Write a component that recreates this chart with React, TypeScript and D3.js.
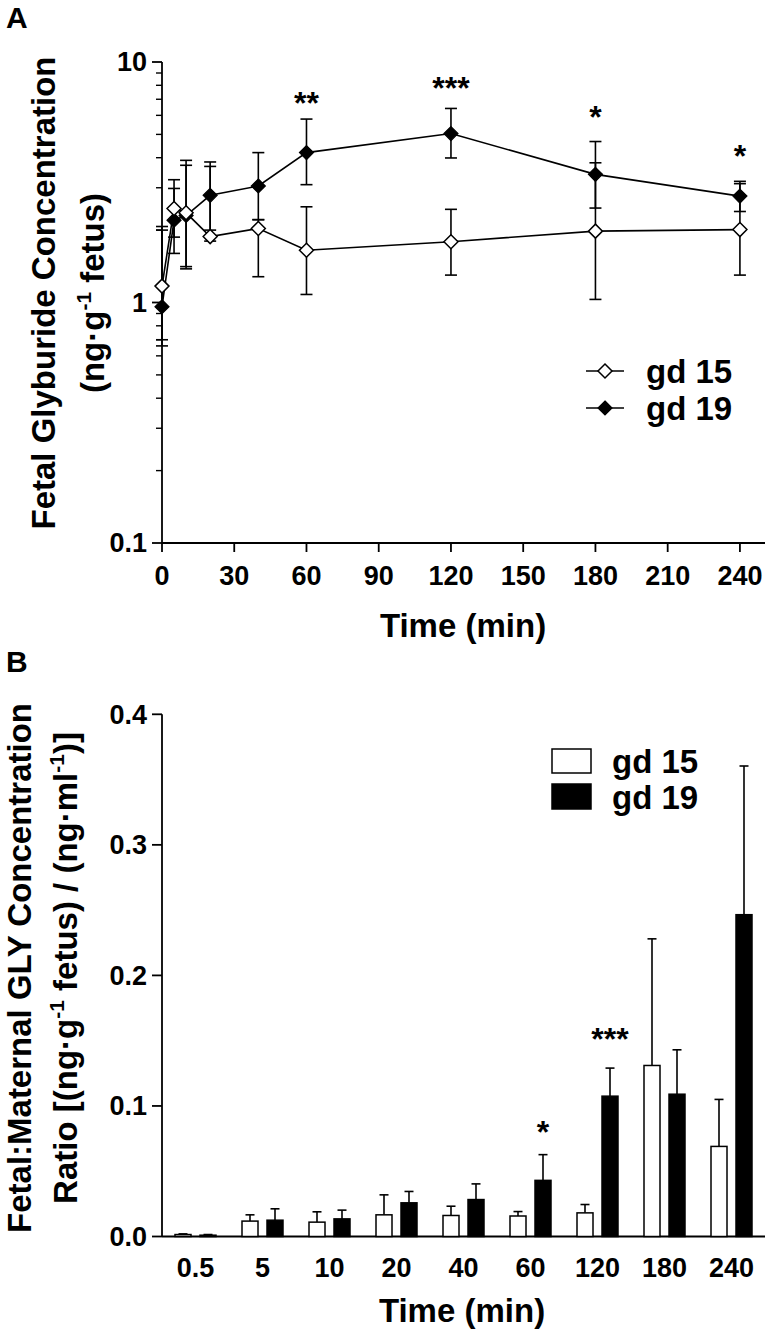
import React from "react";
import * as d3 from "d3";

// ---------- Panel A data (fetal glyburide concentration, ng/g fetus) ----------
const timesA = [0, 5, 10, 20, 40, 60, 120, 180, 240];
const gd15Mean = [1.17, 2.46, 2.36, 1.88, 2.03, 1.65, 1.79, 1.98, 2.01];
const gd15Upper = [2.07, 3.24, 3.9, 3.68, 2.21, 2.5, 2.44, 3.81, 3.12];
const gd15Lower = [0.7, 1.87, 1.41, 1.8, 1.28, 1.08, 1.3, 1.03, 1.3];
const gd19Mean = [0.96, 2.2, 2.3, 2.79, 3.05, 4.2, 5.04, 3.41, 2.77];
const gd19Upper = [2.0, 2.98, 3.72, 3.84, 4.2, 5.79, 6.41, 4.67, 3.19];
const gd19Lower = [0.66, 1.6, 1.38, 2.0, 2.21, 3.09, 3.99, 2.47, 2.39];
const xTicksA = [0, 30, 60, 90, 120, 150, 180, 210, 240];
const yTicksA = [0.1, 1, 10];
const yTickLabelsA = ["0.1", "1", "10"];
const sigTimesA = [60, 120, 180, 240];
const sigLabelsA = ["**", "***", "*", "*"];
const sigLevelsA = [7.17, 8.28, 6.27, 4.3];

// ---------- Panel B data (fetal:maternal ratio) ----------
const catsB = ["0.5", "5", "10", "20", "40", "60", "120", "180", "240"];
const ratio15 = [0.0015, 0.0118, 0.011, 0.0166, 0.0161, 0.0157, 0.0181, 0.131, 0.069];
const ratio15Top = [0.002, 0.0166, 0.0189, 0.0319, 0.0232, 0.0191, 0.0245, 0.228, 0.105];
const ratio19 = [0.001, 0.0125, 0.0135, 0.0258, 0.0283, 0.043, 0.1075, 0.109, 0.2465];
const ratio19Top = [0.0015, 0.0212, 0.0202, 0.0345, 0.0403, 0.0627, 0.129, 0.143, 0.3604];
const yTicksB = [0, 0.1, 0.2, 0.3, 0.4];
const sigCatsB = ["60", "120"];
const sigLabelsB = ["*", "***"];
const sigLevelsB = [0.0849, 0.1558];

const FONT = "'Liberation Sans', Arial, Helvetica, sans-serif";
const SW = 1.6;

function diamond(cx: number, cy: number, r: number) {
  return `M${cx},${cy - r}L${cx + r},${cy}L${cx},${cy + r}L${cx - r},${cy}Z`;
}

export default function App() {
  // ----- Panel A scales -----
  const xA = d3.scaleLinear().domain([0, 250]).range([162, 764]);
  const yA = d3.scaleLog().domain([0.1, 10]).range([543, 62]);
  const lineA = d3
    .line<number>()
    .x((_, i) => xA(timesA[i]))
    .y((d) => yA(d));

  const minorA: number[] = [];
  [0.1, 1].forEach((dec) => {
    for (let k = 2; k <= 9; k++) minorA.push(dec * k);
  });

  // ----- Panel B scales -----
  const xB = d3.scaleBand<string>().domain(catsB).range([162, 765]);
  const yB = d3.scaleLinear().domain([0, 0.4]).range([1236.5, 714.3]);
  const off = 12.5;
  const bw = 16;
  const cB = (c: string) => (xB(c) as number) + xB.bandwidth() / 2;

  const errA = (means: number[], ups: number[], lows: number[], key: string) =>
    means.map((m, i) => {
      const x = xA(timesA[i]);
      return (
        <g key={key + i} stroke="#000" strokeWidth={SW}>
          <line x1={x} x2={x} y1={yA(ups[i])} y2={yA(lows[i])} />
          <line x1={x - 6} x2={x + 6} y1={yA(ups[i])} y2={yA(ups[i])} />
          <line x1={x - 6} x2={x + 6} y1={yA(lows[i])} y2={yA(lows[i])} />
        </g>
      );
    });

  return (
    <svg
      width={767}
      height={1332}
      style={{ position: "absolute", left: 0, top: 0, background: "#fff" }}
      fontFamily={FONT}
      fontWeight="bold"
    >
      <rect x={0} y={0} width={767} height={1332} fill="#fff" />

      {/* ================= Panel A ================= */}
      <text x={6} y={28} fontSize={30}>A</text>

      {/* y axis */}
      <line x1={162} x2={162} y1={yA(10)} y2={yA(0.1)} stroke="#000" strokeWidth={1.8} />
      {yTicksA.map((t, i) => (
        <g key={"yta" + i}>
          <line x1={152} x2={162} y1={yA(t)} y2={yA(t)} stroke="#000" strokeWidth={1.8} />
          <text x={147} y={yA(t)} dy="0.35em" textAnchor="end" fontSize={27}>
            {yTickLabelsA[i]}
          </text>
        </g>
      ))}
      {minorA.map((t, i) => (
        <line key={"mn" + i} x1={156} x2={162} y1={yA(t)} y2={yA(t)} stroke="#000" strokeWidth={1.4} />
      ))}

      {/* x axis */}
      <line x1={162} x2={765} y1={543} y2={543} stroke="#000" strokeWidth={1.8} />
      {xTicksA.map((t) => (
        <g key={"xta" + t}>
          <line x1={xA(t)} x2={xA(t)} y1={543} y2={552} stroke="#000" strokeWidth={1.8} />
          <text x={xA(t)} y={585} textAnchor="middle" fontSize={27}>
            {t}
          </text>
        </g>
      ))}
      <text x={463} y={637} textAnchor="middle" fontSize={33}>Time (min)</text>

      {/* y title */}
      <text transform="translate(55,293) rotate(-90)" textAnchor="middle" fontSize={33}>
        Fetal Glyburide Concentration
      </text>
      <text transform="translate(104,293) rotate(-90)" textAnchor="middle" fontSize={33}>
        (ng·g<tspan fontSize={21} dy={-13}>-1</tspan>
        <tspan dy={13}> fetus)</tspan>
      </text>

      {/* lines */}
      <path d={lineA(gd19Mean) || ""} fill="none" stroke="#000" strokeWidth={SW} />
      <path d={lineA(gd15Mean) || ""} fill="none" stroke="#000" strokeWidth={SW} />
      {errA(gd19Mean, gd19Upper, gd19Lower, "e19")}
      {gd19Mean.map((m, i) => (
        <path key={"m19" + i} d={diamond(xA(timesA[i]), yA(m), 7)} fill="#000" stroke="#000" strokeWidth={1.2} />
      ))}
      {errA(gd15Mean, gd15Upper, gd15Lower, "e15")}
      {gd15Mean.map((m, i) => (
        <path key={"m15" + i} d={diamond(xA(timesA[i]), yA(m), 7)} fill="#fff" stroke="#000" strokeWidth={1.5} />
      ))}

      {/* significance */}
      {sigTimesA.map((t, i) => (
        <text key={"sa" + i} x={xA(t)} y={yA(sigLevelsA[i]) + 17} textAnchor="middle" fontSize={32}>
          {sigLabelsA[i]}
        </text>
      ))}

      {/* legend A */}
      <g>
        <line x1={586} x2={624} y1={371} y2={371} stroke="#000" strokeWidth={SW} />
        <path d={diamond(605, 371, 7)} fill="#fff" stroke="#000" strokeWidth={1.5} />
        <text x={646} y={383} fontSize={33}>gd 15</text>
        <line x1={586} x2={624} y1={408} y2={408} stroke="#000" strokeWidth={SW} />
        <path d={diamond(605, 408, 7)} fill="#000" stroke="#000" strokeWidth={1.2} />
        <text x={646} y={420} fontSize={33}>gd 19</text>
      </g>

      {/* ================= Panel B ================= */}
      <text x={6} y={672} fontSize={30}>B</text>

      <line x1={162} x2={162} y1={yB(0.4)} y2={yB(0)} stroke="#000" strokeWidth={1.8} />
      {yTicksB.map((t) => (
        <g key={"ytb" + t}>
          <line x1={152} x2={162} y1={yB(t)} y2={yB(t)} stroke="#000" strokeWidth={1.8} />
          <text x={147} y={yB(t)} dy="0.35em" textAnchor="end" fontSize={27}>
            {t.toFixed(1)}
          </text>
        </g>
      ))}
      <line x1={162} x2={765} y1={yB(0)} y2={yB(0)} stroke="#000" strokeWidth={1.8} />
      {catsB.map((c) => (
        <text key={"xtb" + c} x={cB(c)} y={1277} textAnchor="middle" fontSize={27}>
          {c}
        </text>
      ))}
      <text x={462} y={1322} textAnchor="middle" fontSize={33}>Time (min)</text>

      <text transform="translate(31,968) rotate(-90)" textAnchor="middle" fontSize={33}>
        Fetal:Maternal GLY Concentration
      </text>
      <text transform="translate(77,968) rotate(-90)" textAnchor="middle" fontSize={33}>
        Ratio [(ng·g<tspan fontSize={21} dy={-13}>-1</tspan>
        <tspan dy={13}> fetus) / (ng·ml</tspan>
        <tspan fontSize={21} dy={-13}>-1</tspan>
        <tspan dy={13}>)]</tspan>
      </text>

      {/* bars */}
      {catsB.map((c, i) => {
        const x15 = cB(c) - off;
        const x19 = cB(c) + off;
        return (
          <g key={"bar" + c} stroke="#000">
            <line x1={x15} x2={x15} y1={yB(ratio15[i])} y2={yB(ratio15Top[i])} strokeWidth={SW} />
            <line x1={x15 - 4.5} x2={x15 + 4.5} y1={yB(ratio15Top[i])} y2={yB(ratio15Top[i])} strokeWidth={SW} />
            <rect
              x={x15 - bw / 2}
              y={yB(ratio15[i])}
              width={bw}
              height={yB(0) - yB(ratio15[i])}
              fill="#fff"
              strokeWidth={1.5}
            />
            <line x1={x19} x2={x19} y1={yB(ratio19[i])} y2={yB(ratio19Top[i])} strokeWidth={SW} />
            <line x1={x19 - 4.5} x2={x19 + 4.5} y1={yB(ratio19Top[i])} y2={yB(ratio19Top[i])} strokeWidth={SW} />
            <rect
              x={x19 - bw / 2}
              y={yB(ratio19[i])}
              width={bw}
              height={yB(0) - yB(ratio19[i])}
              fill="#000"
              strokeWidth={1.5}
            />
          </g>
        );
      })}

      {sigCatsB.map((c, i) => (
        <text key={"sb" + i} x={cB(c) + off} y={yB(sigLevelsB[i]) + 17} textAnchor="middle" fontSize={32}>
          {sigLabelsB[i]}
        </text>
      ))}

      {/* legend B */}
      <rect x={552} y={749} width={39} height={24} fill="#fff" stroke="#000" strokeWidth={1.5} />
      <text x={612} y={773} fontSize={33}>gd 15</text>
      <rect x={552} y={784} width={39} height={25} fill="#000" stroke="#000" strokeWidth={1.5} />
      <text x={612} y={809} fontSize={33}>gd 19</text>
    </svg>
  );
}
